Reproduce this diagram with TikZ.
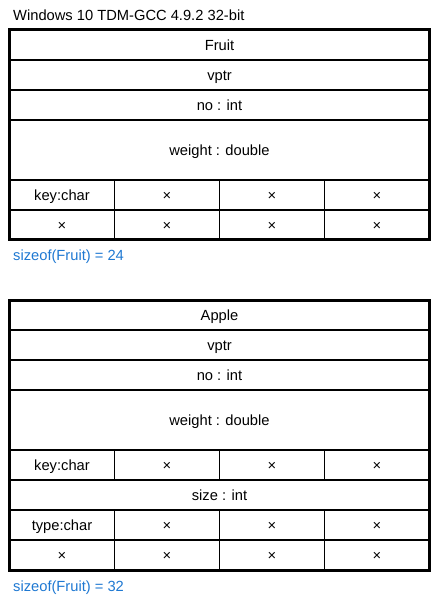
\documentclass[tikz,border=0pt]{standalone}
\usepackage{fontspec}
\setmainfont{Liberation Sans}
\usetikzlibrary{positioning}
\definecolor{sizeblue}{RGB}{30,120,210}
\tikzset{
  row/.style={rectangle, draw, line width=1.2pt, minimum width=420pt, minimum height=30pt, inner sep=0pt, outer sep=0pt, text height=10.4pt, text depth=0pt},
  tall/.style={row, minimum height=60pt},
  cell/.style={row, minimum width=105pt},
  frame/.style={draw, line width=3pt},
  headline/.style={line width=2pt},
  sizetext/.style={text=sizeblue, anchor=base west, inner sep=0pt}
}

\begin{document}
\begin{tikzpicture}[x=1pt, y=-1pt, node distance=0pt, font=\fontsize{14.7}{17}\selectfont]
        \useasboundingbox (0,0) rectangle (441,601);
        \node (title) [anchor=base west, inner sep=0pt] at (13,20.7) {Windows 10 TDM-GCC 4.9.2 32-bit};

        % Fruit
        \node (fruitHead) [row] at (219.5,45) {Fruit};
        \node (fruitVptr) [row, below=of fruitHead] {vptr};
        \node (fruitNo) [row, below=of fruitVptr] {no : int};
        \node (fruitWeight) [tall, below=of fruitNo] {weight : double};
        \node (fruitKey) [cell, below right=of fruitWeight.south west] {key:char};
        \foreach \prev/\cur in {fruitKey/fruitKeyA, fruitKeyA/fruitKeyB, fruitKeyB/fruitKeyC}
            \node (\cur) [cell, right=of \prev] {×};
        \node (fruitPad) [cell, below=of fruitKey] {×};
        \foreach \prev/\cur in {fruitPad/fruitPadA, fruitPadA/fruitPadB, fruitPadB/fruitPadC}
            \node (\cur) [cell, right=of \prev] {×};
        \draw [frame] (fruitHead.north west) rectangle (fruitPadC.south east);
        \draw [headline] (fruitHead.south west) -- (fruitHead.south east);
        \node (fruitSize) [sizetext] at (13,260.5) {sizeof(Fruit) = 24};

        % Apple
        \node (appleHead) [row] at (219.5,315) {Apple};
        \node (appleVptr) [row, below=of appleHead] {vptr};
        \node (appleNo) [row, below=of appleVptr] {no : int};
        \node (appleWeight) [tall, below=of appleNo] {weight : double};
        \node (appleKey) [cell, below right=of appleWeight.south west] {key:char};
        \foreach \prev/\cur in {appleKey/appleKeyA, appleKeyA/appleKeyB, appleKeyB/appleKeyC}
            \node (\cur) [cell, right=of \prev] {×};
        \node (appleSizeRow) [row, below right=of appleKey.south west] {size : int};
        \node (appleType) [cell, below right=of appleSizeRow.south west] {type:char};
        \foreach \prev/\cur in {appleType/appleTypeA, appleTypeA/appleTypeB, appleTypeB/appleTypeC}
            \node (\cur) [cell, right=of \prev] {×};
        \node (applePad) [cell, below=of appleType] {×};
        \foreach \prev/\cur in {applePad/applePadA, applePadA/applePadB, applePadB/applePadC}
            \node (\cur) [cell, right=of \prev] {×};
        \draw [frame] (appleHead.north west) rectangle (applePadC.south east);
        \draw [headline] (appleHead.south west) -- (appleHead.south east);
        \node (appleSize) [sizetext] at (13,591) {sizeof(Fruit) = 32};
\end{tikzpicture}
\end{document}
